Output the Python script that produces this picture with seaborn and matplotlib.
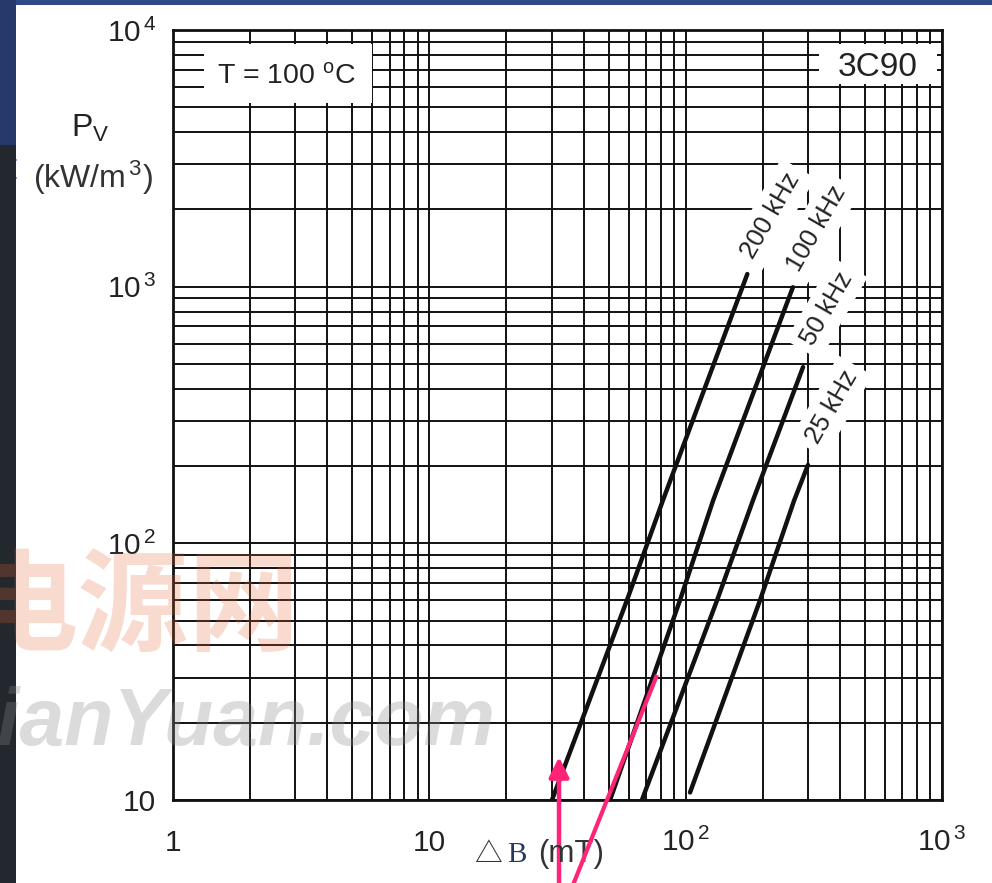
import numpy as np
import pandas as pd
import matplotlib
matplotlib.use('Agg')
import matplotlib.pyplot as plt
import seaborn as sns
from matplotlib.patches import Rectangle
from matplotlib.lines import Line2D
from matplotlib.ticker import FixedLocator, FixedFormatter, NullFormatter, LogLocator

# ---------------- data ----------------
freqs = ['200 kHz', '100 kHz', '50 kHz', '25 kHz']
B_200 = [30.1, 59.0, 81.5, 174.0]
P_200 = [10.0, 60.0, 147.0, 1120.0]
B_100 = [50.7, 95.0, 128.0, 262.0]
P_100 = [10.0, 60.0, 147.0, 995.0]
B_50 = [67.0, 132.6, 183.0, 287.0]
P_50 = [9.8, 60.0, 147.0, 486.0]
B_25 = [104.0, 195.0, 265.0, 300.0]
P_25 = [10.7, 60.0, 147.0, 202.0]

x_ticks = [1, 10, 100, 1000]
x_ticklabels = ['1', '10', r'$\mathregular{10^{\,2}}$', r'$\mathregular{10^{\,3}}$']
y_ticks = [10, 100, 1000, 10000]
y_ticklabels = ['10', r'$\mathregular{10^{\,2}}$', r'$\mathregular{10^{\,3}}$', r'$\mathregular{10^{\,4}}$']

series_B = [B_200, B_100, B_50, B_25]
series_P = [P_200, P_100, P_50, P_25]
df = pd.concat([pd.DataFrame({'B': b, 'Pv': p, 'f': f})
                for f, b, p in zip(freqs, series_B, series_P)], ignore_index=True)

# ---------------- style ----------------
sns.set_style('white')
plt.rcParams['font.family'] = ['Liberation Sans', 'DejaVu Sans']
plt.rcParams['mathtext.fontset'] = 'custom'
plt.rcParams['mathtext.rm'] = 'Liberation Sans'
plt.rcParams['mathtext.it'] = 'Liberation Sans:italic'
plt.rcParams['mathtext.bf'] = 'Liberation Sans:bold'

W, H = 992, 883
fig = plt.figure(figsize=(W / 100, H / 100), dpi=100, facecolor='white')

# slide background strips (top and left)
fig.patches.append(Rectangle((0, 1 - 5 / H), 1, 5 / H, transform=fig.transFigure,
                             facecolor='#2f4a86', edgecolor='none', zorder=0))
fig.patches.append(Rectangle((0, 0), 16 / W, 1, transform=fig.transFigure,
                             facecolor='#22282e', edgecolor='none', zorder=0))
fig.patches.append(Rectangle((0, 1 - 145 / H), 16 / W, 145 / H, transform=fig.transFigure,
                             facecolor='#25396a', edgecolor='none', zorder=0))
for yy in (160, 178):
    fig.add_artist(Line2D([0, 16 / W], [1 - yy / H] * 2, transform=fig.transFigure,
                          color='#5f7fc0', lw=1.5, zorder=0))
fig.add_artist(Line2D([1 / W] * 2, [1 - 350 / H, 1 - 560 / H], transform=fig.transFigure,
                      color='#35e0e6', lw=2, zorder=0))

ax = fig.add_axes([173 / W, 83 / H, 769 / W, 770 / H])
sns.lineplot(data=df, x='B', y='Pv', hue='f', hue_order=freqs,
             palette={f: '#111111' for f in freqs}, estimator=None, sort=False,
             lw=3.2, legend=False, ax=ax, zorder=3)
ax.set_xscale('log')
ax.set_yscale('log')
ax.set_xlim(1, 1000)
ax.set_ylim(10, 1e4)
ax.set_xlabel('')
ax.set_ylabel('')

ax.xaxis.set_major_locator(FixedLocator(x_ticks))
ax.xaxis.set_major_formatter(FixedFormatter(x_ticklabels))
ax.yaxis.set_major_locator(FixedLocator(y_ticks))
ax.yaxis.set_major_formatter(FixedFormatter(y_ticklabels))
for axis in (ax.xaxis, ax.yaxis):
    axis.set_minor_locator(LogLocator(base=10, subs=range(2, 10), numticks=20))
    axis.set_minor_formatter(NullFormatter())

ax.set_axisbelow(True)
ax.grid(which='both', color='#111111', lw=1.4)
ax.tick_params(which='both', length=0)
ax.tick_params(axis='both', labelsize=21.5, labelcolor='#222222')
ax.tick_params(axis='x', pad=37)
ax.tick_params(axis='y', pad=12)
for lbl in ax.get_xticklabels():
    lbl.set_va('baseline')
for sp in ax.spines.values():
    sp.set_color('#111111')
    sp.set_linewidth(2)

# white label boxes interrupting the grid
ax.add_patch(Rectangle((1.32, 5180), 6.0 - 1.32, 8800 - 5180, facecolor='white',
                       edgecolor='none', zorder=1))
ax.text(2.78, 6600, r'T = 100 $^{\mathregular{o}}$C', fontsize=20.5, color='#222222',
        ha='center', va='center', zorder=2)
ax.add_patch(Rectangle((330, 6180), 955 - 330, 8800 - 6180, facecolor='white',
                       edgecolor='none', zorder=1))
ax.text(560, 7150, '3C90', fontsize=24, color='#222222', ha='center', va='center', zorder=2)

# curve labels (rotated, white background)
for f, b, p in zip(freqs, series_B, series_P):
    ax.annotate(f, xy=(b[-1], p[-1]), xytext=(17, 42), textcoords='offset points',
                rotation=60, ha='center', va='center', fontsize=18.5, color='#222222',
                rotation_mode='anchor', zorder=2,
                bbox=dict(boxstyle='square,pad=0.3', facecolor='white', edgecolor='none'))

# axis titles
fig.text(90 / W, 1 - 128 / H, r'P$_{\mathregular{V}}$', fontsize=23, color='#222222',
         ha='center', va='center')
fig.text(93 / W, 1 - 178 / H, r'(kW/m$^{\mathregular{\,3}}$)', fontsize=23, color='#333333',
         ha='center', va='center')
fig.text(474 / W, 1 - 862 / H, '\u25B3', fontsize=20, color='#333333', ha='left',
         va='baseline', family=['Noto Sans CJK SC', 'DejaVu Sans'])
fig.text(507 / W, 1 - 862 / H, 'B', fontsize=21, color='#2a3a5a', ha='left',
         va='baseline', family=['Liberation Serif', 'DejaVu Serif'])
fig.text(538 / W, 1 - 862 / H, '(mT)', fontsize=22.5, color='#333333', ha='left',
         va='baseline')

# watermark
fig.text(300 / W, 1 - 610 / H, '电源网', fontsize=80, color='#e8653a', alpha=0.24,
         ha='right', va='center', family=['Noto Sans CJK SC'], fontweight='bold', zorder=20)
fig.text(-60 / W, 1 - 745 / H, 'DianYuan.com', fontsize=58, color='#8a8a8a', alpha=0.3,
         ha='left', va='baseline', fontweight='bold', fontstyle='italic', zorder=20)

# pink annotation arrows
pink = '#ff2478'
ax.annotate('', xy=(559, H - 757), xytext=(559, -10), xycoords='figure pixels',
            textcoords='figure pixels', annotation_clip=False,
            arrowprops=dict(arrowstyle='-|>,head_length=0.8,head_width=0.4', color=pink,
                            lw=3.2, shrinkA=0, shrinkB=0, mutation_scale=15))
fig.add_artist(Line2D([573 / W, 657 / W], [-2 / H, 208 / H], transform=fig.transFigure,
                      color=pink, lw=3.0, solid_capstyle='butt', zorder=21))

fig.savefig('out.png', dpi=100, facecolor='white')
